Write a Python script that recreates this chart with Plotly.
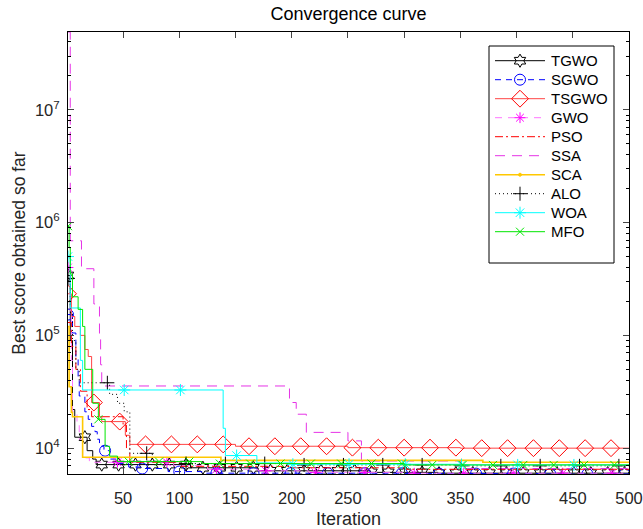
import numpy as np
import plotly.graph_objects as go

# Best-so-far values: iterations where each optimiser improves, and the new best value.
TGWO_IT = [1, 3, 5, 7, 18, 23, 26, 110, 170, 270, 330]
TGWO_V = [3.4e5, 9.0e4, 2.2e4, 1.25e4, 9.5e3, 8.0e3, 7.15e3, 6.7e3, 6.3e3, 6.1e3, 6.0e3]

SGWO_IT = [1, 5, 8, 10, 11, 16, 19, 22, 25, 27, 29, 33, 38, 44, 55, 66, 90, 120, 300, 420]
SGWO_V = [1.53e5, 1.05e5, 6.5e4, 4.0e4, 2.9e4, 2.1e4, 1.8e4, 1.56e4, 1.4e4, 1.2e4,
          1.04e4, 9.5e3, 8.0e3, 7.3e3, 6.8e3, 6.6e3, 6.2e3, 6.0e3, 5.95e3, 5.9e3]

TSGWO_IT = [1, 4, 7, 12, 16, 19, 22, 29, 31, 52, 56, 150, 250, 350]
TSGWO_V = [2.34e5, 1.47e5, 1.2e5, 1.0e5, 7.5e4, 6.5e4, 2.54e4, 1.9e4, 1.72e4, 1.3e4,
           1.08e4, 1.04e4, 1.01e4, 1.0e4]

GWO_IT = [1, 3, 4, 5, 9, 11, 14, 20, 95, 125, 170, 215, 300]
GWO_V = [4.0e5, 1.5e5, 6.0e4, 2.1e4, 1.6e4, 1.2e4, 8.2e3, 7.5e3, 7.0e3, 6.5e3, 6.3e3, 6.1e3, 6.0e3]

PSO_IT = [1, 4, 8, 12, 18, 22, 50, 53, 56, 100, 200, 300]
PSO_V = [1.3e5, 8.0e4, 5.0e4, 3.2e4, 2.2e4, 1.9e4, 1.6e4, 1.0e4, 7.5e3, 6.9e3, 6.7e3, 6.5e3]

SSA_IT = [1, 3, 13, 24, 29, 30, 31, 198, 204, 213, 250, 262, 350]
SSA_V = [4.9e7, 6.9e5, 3.9e5, 1.9e5, 1.0e5, 5.5e4, 3.56e4, 2.54e4, 2.0e4, 1.38e4, 1.16e4, 7.7e3, 6.6e3]

SCA_IT = [1, 2, 4, 5, 14, 137, 370]
SCA_V = [1.2e5, 3.5e4, 2.08e4, 1.9e4, 8.3e3, 7.8e3, 7.5e3]

ALO_IT = [1, 3, 5, 8, 11, 38, 45, 51, 56, 76, 105, 200, 350]
ALO_V = [3.2e5, 1.6e5, 9.0e4, 5.0e4, 3.8e4, 3.0e4, 2.5e4, 2.1e4, 9.0e3, 7.6e3, 7.3e3, 7.1e3, 6.97e3]

WOA_IT = [1, 3, 12, 14, 139, 141, 169, 200, 350]
WOA_V = [5.0e5, 1.75e5, 6.0e4, 3.28e4, 1.5e4, 8.6e3, 7.4e3, 7.2e3, 7.1e3]

MFO_IT = [1, 2, 3, 5, 10, 14, 16, 23, 28, 34, 38, 45, 120, 300]
MFO_V = [9.3e5, 6.0e5, 3.5e5, 2.2e5, 1.7e5, 1.2e5, 5.0e4, 2.5e4, 1.8e4, 1.04e4, 8.5e3, 7.6e3, 7.3e3, 7.1e3]

MAX_ITER = 500
X_TICKS = [50, 100, 150, 200, 250, 300, 350, 400, 450, 500]
Y_TICKS = [1e4, 1e5, 1e6, 1e7]
Y_TICK_TEXT = ["10<sup>4</sup>", "10<sup>5</sup>", "10<sup>6</sup>", "10<sup>7</sup>"]

# name, change points, values, line colour, dash, marker symbol, marker colour, marker size, marker step
SERIES = [
    ("TGWO", TGWO_IT, TGWO_V, "#000000", "solid", "hexagram-open", "#000000", 10, 15),
    ("SGWO", SGWO_IT, SGWO_V, "#0000ff", "6px,5px", "circle-open", "#0000ff", 11, 33),
    ("TSGWO", TSGWO_IT, TSGWO_V, "#ff4444", "solid", "diamond-open", "#ff0000", 13, 23),
    ("GWO", GWO_IT, GWO_V, "#ff77ff", "7px,6px", "asterisk-open", "#ff00ff", 9, 44),
    ("PSO", PSO_IT, PSO_V, "#ff0000", "8px,3px,2px,3px", None, None, 0, 0),
    ("SSA", SSA_IT, SSA_V, "#e633e6", "10px,7px", None, None, 0, 0),
    ("SCA", SCA_IT, SCA_V, "#ffc800", "solid", "circle", "#ffc800", 3, 0),
    ("ALO", ALO_IT, ALO_V, "#000000", "1px,3px", "cross-thin-open", "#000000", 10, 35),
    ("WOA", WOA_IT, WOA_V, "#00ffff", "solid", "asterisk-open", "#00ffff", 10, 50),
    ("MFO", MFO_IT, MFO_V, "#00e600", "solid", "x-thin-open", "#00e600", 8, 27),
]

# figure geometry (pixels)
W, H = 643, 529
ML, MR, MT, MB = 68, 14, 32, 55
PW, PH = W - ML - MR, H - MT - MB


def px_x(px):
    return (px - ML) / PW


def px_y(py):
    return 1 - (py - MT) / PH


def step_curve(its, vals):
    """Extend the change points to the last iteration."""
    its = list(its) + [MAX_ITER]
    vals = list(vals) + [vals[-1]]
    return its, vals


def value_at(its, vals, k):
    idx = np.searchsorted(np.asarray(its), k, side="right") - 1
    return np.asarray(vals)[idx]


fig = go.Figure()
all_vals = []
for name, its, vals, lc, dash, sym, mc, ms, step in SERIES:
    x, y = step_curve(its, vals)
    all_vals += y
    lw = 1.6 if name == "SCA" else 1
    fig.add_trace(go.Scatter(x=x, y=y, mode="lines", line=dict(color=lc, width=lw, dash=dash, shape="hv"),
                             showlegend=False, hoverinfo="skip"))
    if sym and step:
        mk = np.arange(1, MAX_ITER + 1, step)
        fig.add_trace(go.Scatter(x=mk, y=value_at(its, vals, mk), mode="markers",
                                 marker=dict(symbol=sym, color=mc, size=ms, line=dict(color=mc, width=1)),
                                 showlegend=False, hoverinfo="skip"))

# boxed legend in the upper right, drawn on an overlay axis spanning the plot area (0..1)
LEG_L, LEG_R, LEG_T, LEG_B = 489, 614, 46, 263
ROW0, ROW_STEP = 60.7, 19
fig.add_trace(go.Scatter(
    x=[px_x(LEG_L), px_x(LEG_R), px_x(LEG_R), px_x(LEG_L), px_x(LEG_L)],
    y=[px_y(LEG_T), px_y(LEG_T), px_y(LEG_B), px_y(LEG_B), px_y(LEG_T)],
    xaxis="x2", yaxis="y2", mode="lines", fill="toself", fillcolor="white",
    line=dict(color="black", width=1), showlegend=False, hoverinfo="skip"))
annotations = []
for i, (name, its, vals, lc, dash, sym, mc, ms, step) in enumerate(SERIES):
    ry = px_y(ROW0 + ROW_STEP * i)
    lw = 1.6 if name == "SCA" else 1
    fig.add_trace(go.Scatter(x=[px_x(495), px_x(545)], y=[ry, ry], xaxis="x2", yaxis="y2",
                             mode="lines", line=dict(color=lc, width=lw, dash=dash),
                             showlegend=False, hoverinfo="skip"))
    if sym:
        fig.add_trace(go.Scatter(x=[px_x(520)], y=[ry], xaxis="x2", yaxis="y2", mode="markers",
                                 marker=dict(symbol=sym, color=mc, size=ms, line=dict(color=mc, width=1)),
                                 showlegend=False, hoverinfo="skip"))
    annotations.append(dict(text=name, xref="paper", yref="paper", x=px_x(549), y=ry,
                            xanchor="left", yanchor="middle", showarrow=False,
                            font=dict(size=15, color="black")))

ymin, ymax = min(all_vals), max(all_vals)
minor_vals = [m * 10 ** e for e in range(3, 8) for m in range(2, 10)]

FONT = "Liberation Sans, Arial, sans-serif"
fig.update_layout(
    width=W, height=H,
    margin=dict(l=ML, r=MR, t=MT, b=MB),
    paper_bgcolor="white", plot_bgcolor="white",
    font=dict(family=FONT, size=16, color="#262626"),
    title=dict(text="Convergence curve", x=0.5, xref="paper", xanchor="center",
               y=1 - 14 / H, yanchor="middle", font=dict(size=18, color="black")),
    showlegend=False,
    annotations=annotations,
    xaxis=dict(range=[1, MAX_ITER], tickvals=X_TICKS, ticks="inside", ticklen=6,
               showline=True, linecolor="black", linewidth=1, mirror="ticks",
               showgrid=False, zeroline=False, tickfont=dict(size=16.5, color="#262626"),
               ticklabelstandoff=9, automargin=False,
               title=dict(text="Iteration", font=dict(size=18, color="#262626"), standoff=6)),
    yaxis=dict(type="log", range=[np.log10(ymin), np.log10(ymax)],
               tickvals=Y_TICKS, ticktext=Y_TICK_TEXT, ticks="inside", ticklen=6,
               minor=dict(tickvals=minor_vals, ticks="inside", ticklen=3, tickcolor="black", showgrid=False),
               showline=True, linecolor="black", linewidth=1, mirror="ticks",
               showgrid=False, zeroline=False, tickfont=dict(size=16.5, color="#262626"),
               ticklabelstandoff=4, automargin=False,
               title=dict(text="Best score obtained so far", font=dict(size=17.5, color="#262626"), standoff=4)),
    xaxis2=dict(overlaying="x", range=[0, 1], visible=False, fixedrange=True),
    yaxis2=dict(overlaying="y", range=[0, 1], visible=False, fixedrange=True),
)

fig.write_html("out.html")
